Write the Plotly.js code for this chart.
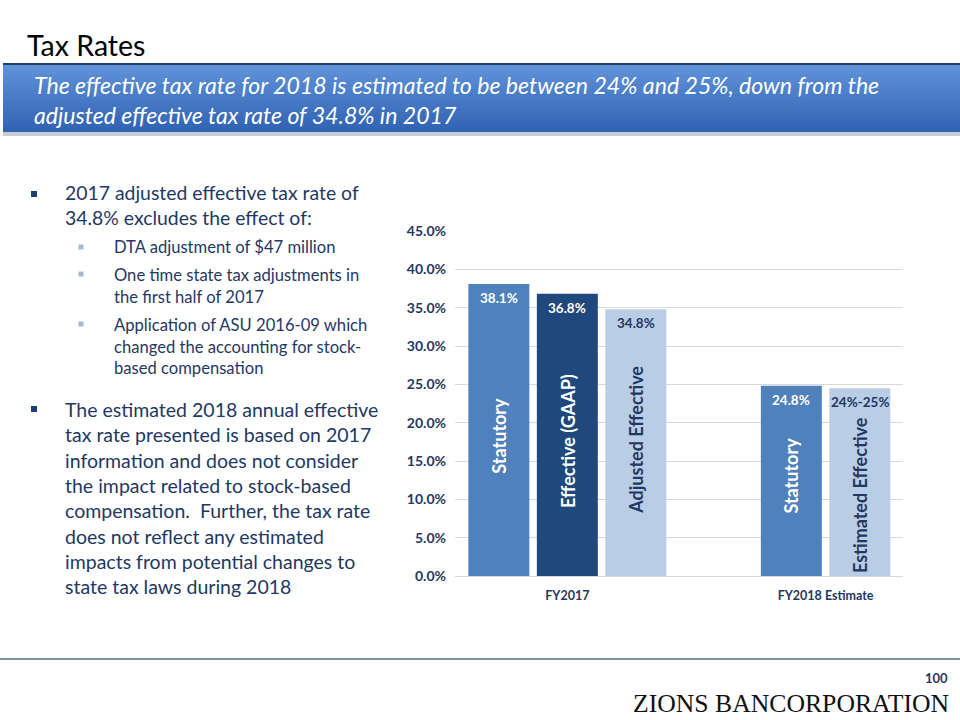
<!DOCTYPE html>
<html>
<head>
<meta charset="utf-8">
<script src="https://cdn.plot.ly/plotly-3.0.1.min.js"></script>
<style>
  html, body { margin: 0; padding: 0; background: #fff; }
  #chart { width: 960px; height: 720px; }
</style>
</head>
<body>
<div id="chart"></div>
<script>
// Chart data
const groups = ['FY2017', 'FY2018 Estimate'];
const barNames = ['Statutory', 'Effective (GAAP)', 'Adjusted Effective', 'Statutory', 'Estimated Effective'];
const barGroup = [0, 0, 0, 1, 1];
const barValues = [38.1, 36.8, 34.8, 24.8, 24.5];
const valueLabels = ['38.1%', '36.8%', '34.8%', '24.8%', '24%-25%'];
const barKind = ['statutory', 'gaap', 'adjusted', 'statutory', 'adjusted'];

// Slide text
const slideTitle = 'Tax Rates';
const bannerLines = [
  'The effective tax rate for 2018 is estimated to be between 24% and 25%, down from the',
  'adjusted effective tax rate of 34.8% in 2017'
];
const bullet1 = ['2017 adjusted effective tax rate of', '34.8% excludes the effect of:'];
const subBullets = [
  ['DTA adjustment of $47 million'],
  ['One time state tax adjustments in', 'the first half of 2017'],
  ['Application of ASU 2016-09 which', 'changed the accounting for stock-', 'based compensation']
];
const bullet2 = [
  'The estimated 2018 annual effective',
  'tax rate presented is based on 2017',
  'information and does not consider',
  'the impact related to stock-based',
  'compensation.  Further, the tax rate',
  'does not reflect any estimated',
  'impacts from potential changes to',
  'state tax laws during 2018'
];

// styling
const navy = '#1f3864';
const kindColor = { statutory: '#4f81bd', gaap: '#1f497d', adjusted: '#b9cde5' };
const kindText = { statutory: '#ffffff', gaap: '#ffffff', adjusted: navy };
const font = 'Lato, "Open Sans", sans-serif';
const groupGap = 3.77;
// where the rotated bar names sit, as a share of bar height (hand placed on the slide)
const nameFrac = [0.48, 0.48, 0.51, 0.53, 0.43];

// page pixel -> paper coords (margins are zero so paper = page)
const W = 960, H = 720;
const px = x => x / W;
const py = y => 1 - y / H;

// bar positions from group / slot
const groupSize = groups.map((g, i) => barGroup.filter(b => b === i).length);
const slotSeen = groups.map(() => 0);
const barX = barGroup.map(g => {
  const s = slotSeen[g]++;
  return g * groupGap + (s - (groupSize[g] - 1) / 2);
});
const groupX = groups.map((g, i) => i * groupGap);

const barTrace = {
  type: 'bar',
  x: barX,
  y: barValues,
  width: 0.89,
  marker: { color: barKind.map(k => kindColor[k]), line: { width: 0 } },
  hoverinfo: 'skip',
  showlegend: false
};

const annotations = [];

// value labels at bar tops, names rotated inside the bars
barValues.forEach((v, i) => {
  annotations.push({
    x: barX[i], y: v, xref: 'x', yref: 'y',
    text: '<b>' + valueLabels[i] + '</b>',
    showarrow: false, yanchor: 'top', yshift: -4,
    font: { family: font, size: 13.5, color: kindText[barKind[i]] }
  });
  annotations.push({
    x: barX[i], y: v * nameFrac[i], xref: 'x', yref: 'y',
    text: '<b>' + barNames[i] + '</b>', textangle: -90,
    showarrow: false, yanchor: 'middle', xanchor: 'center',
    font: { family: font, size: 18, color: kindText[barKind[i]] }
  });
});

// title
annotations.push({
  x: px(25), y: py(45), xref: 'paper', yref: 'paper',
  xanchor: 'left', yanchor: 'middle', showarrow: false,
  text: slideTitle, font: { family: font, size: 28.5, color: '#000' }
});

// banner text
annotations.push({
  x: px(32), y: py(100), xref: 'paper', yref: 'paper',
  xanchor: 'left', yanchor: 'middle', align: 'left', showarrow: false,
  text: bannerLines.map(l => '<i>' + l + '</i>').join('<br>'),
  font: { family: font, size: 23.1, color: '#fff' }
});

// bullets
function textBlock(lines, x, yCenter, size) {
  annotations.push({
    x: px(x), y: py(yCenter), xref: 'paper', yref: 'paper',
    xanchor: 'left', yanchor: 'middle', align: 'left', showarrow: false,
    text: lines.join('<br>'), font: { family: font, size: size, color: navy }
  });
}
textBlock(bullet1, 63, 205, 19.4);
textBlock(subBullets[0], 112, 247, 16.6);
textBlock(subBullets[1], 112, 285.5, 16.6);
textBlock(subBullets[2], 112, 346, 16.6);
textBlock(bullet2, 63, 498, 19.5);

// footer
annotations.push({
  x: px(950), y: py(678), xref: 'paper', yref: 'paper',
  xanchor: 'right', yanchor: 'middle', showarrow: false,
  text: '<b>100</b>', font: { family: font, size: 13, color: navy }
});
annotations.push({
  x: px(951), y: py(703), xref: 'paper', yref: 'paper',
  xanchor: 'right', yanchor: 'middle', showarrow: false,
  text: 'ZIONS BANCORPORATION',
  font: { family: '"Liberation Serif", "DejaVu Serif", serif', size: 25.7, color: '#111' }
});

// shapes: banner gradient, bullets, footer line
const shapes = [];
const bandTop = 65, bandBottom = 132, nBands = 14;
const cTop = [94, 145, 216], cBot = [50, 100, 180];
for (let i = 0; i < nBands; i++) {
  const t = i / (nBands - 1);
  const c = cTop.map((v, k) => Math.round(v + (cBot[k] - v) * t));
  const y0 = bandTop + (bandBottom - bandTop) * i / nBands;
  const y1 = Math.min(bandBottom, bandTop + (bandBottom - bandTop) * (i + 1) / nBands + 1.5);
  shapes.push({
    type: 'rect', xref: 'paper', yref: 'paper', layer: 'below',
    x0: px(3), x1: px(960), y0: py(y0), y1: py(y1),
    fillcolor: `rgb(${c.join(',')})`, line: { width: 0 }
  });
}
shapes.push({ type: 'line', xref: 'paper', yref: 'paper', x0: px(3), x1: px(960), y0: py(64), y1: py(64), line: { color: '#1f3f6e', width: 2 } });
shapes.push({ type: 'rect', xref: 'paper', yref: 'paper', layer: 'below', x0: px(3), x1: px(960), y0: py(132), y1: py(136), fillcolor: '#c9cdd3', line: { width: 0 } });

function square(cx, cy, s, color) {
  shapes.push({ type: 'rect', xref: 'paper', yref: 'paper', x0: px(cx - s / 2), x1: px(cx + s / 2), y0: py(cy - s / 2), y1: py(cy + s / 2), fillcolor: color, line: { width: 0 } });
}
square(34, 194, 6, '#1f3f73');
square(81, 247, 5, '#a7b9d3');
square(81, 274, 5, '#a7b9d3');
square(81, 324, 5, '#a7b9d3');
square(34, 409, 6, '#1f3f73');

shapes.push({ type: 'line', xref: 'paper', yref: 'paper', x0: 0, x1: 1, y0: py(659), y1: py(659), line: { color: '#4f6d8f', width: 1.5 } });

const layout = {
  width: W, height: H,
  margin: { l: 0, r: 0, t: 0, b: 0 },
  paper_bgcolor: '#fff',
  plot_bgcolor: '#fff',
  font: { family: font, color: navy },
  xaxis: {
    domain: [px(455), px(903)],
    range: [-1.64, groupGap + 1.13],
    tickvals: groupX,
    ticktext: groups.map(g => '<b>' + g + '</b>'),
    tickfont: { family: font, size: 12.5, color: navy },
    ticklabelstandoff: 10,
    showgrid: false, zeroline: false, showline: false, ticks: '',
    fixedrange: true
  },
  yaxis: {
    domain: [py(576), py(231)],
    range: [0, 45],
    dtick: 5,
    tickformat: '.1f',
    ticksuffix: '%',
    tickfont: { family: font, size: 14, weight: 700, color: navy },
    ticklabelstandoff: 8,
    gridcolor: '#d9d9d9',
    zeroline: true, zerolinecolor: '#d9d9d9',
    showline: false, ticks: '',
    fixedrange: true
  },
  shapes: shapes,
  annotations: annotations
};

Plotly.newPlot('chart', [barTrace], layout, { displayModeBar: false, staticPlot: true });
</script>
</body>
</html>
